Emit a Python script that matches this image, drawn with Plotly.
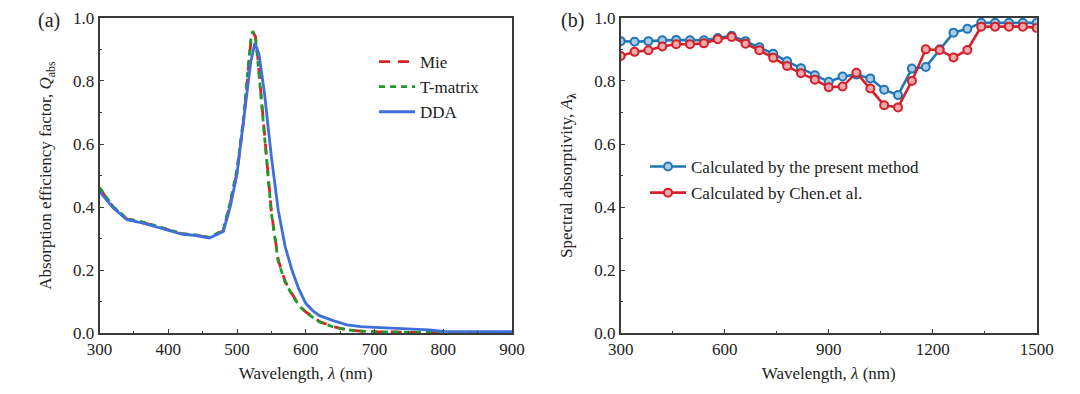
import plotly.graph_objects as go

# ---------- Panel (a) data ----------
wl_a = [300, 320, 340, 360, 380, 400, 420, 440, 460, 480, 490, 500, 510, 515, 520, 523, 527, 530,
        540, 550, 560, 570, 580, 590, 600, 620, 640, 660, 680, 700, 750, 800, 850, 900]
mie = [0.460, 0.400, 0.362, 0.353, 0.341, 0.327, 0.315, 0.311, 0.303, 0.325, 0.410, 0.510, 0.680,
       0.800, 0.920, 0.955, 0.940, 0.880, 0.640, 0.385, 0.232, 0.165, 0.125, 0.090, 0.068, 0.037,
       0.021, 0.011, 0.007, 0.005, 0.003, 0.002, 0.001, 0.001]
tmat = [0.462, 0.401, 0.363, 0.354, 0.342, 0.328, 0.316, 0.312, 0.304, 0.327, 0.415, 0.520, 0.690,
        0.815, 0.930, 0.958, 0.935, 0.870, 0.630, 0.380, 0.228, 0.162, 0.122, 0.088, 0.066, 0.036,
        0.020, 0.011, 0.007, 0.005, 0.003, 0.002, 0.001, 0.001]
wl_dda = [300, 320, 340, 360, 380, 400, 420, 440, 460, 480, 490, 500, 510, 520, 526, 532, 540, 550,
          560, 570, 580, 590, 600, 610, 620, 640, 660, 680, 700, 740, 780, 800, 850, 900]
dda = [0.450, 0.397, 0.360, 0.351, 0.339, 0.326, 0.314, 0.310, 0.302, 0.323, 0.400, 0.505, 0.680,
       0.860, 0.920, 0.885, 0.760, 0.560, 0.390, 0.275, 0.200, 0.140, 0.095, 0.072, 0.056, 0.040,
       0.027, 0.021, 0.019, 0.016, 0.011, 0.006, 0.005, 0.005]

# ---------- Panel (b) data ----------
wl_b = [300, 340, 380, 420, 460, 500, 540, 580, 620, 660, 700, 740, 780, 820, 860, 900, 940, 980,
        1020, 1060, 1100, 1140, 1180, 1220, 1260, 1300, 1340, 1380, 1420, 1460, 1500]
present = [0.926, 0.924, 0.926, 0.929, 0.930, 0.929, 0.929, 0.936, 0.943, 0.926, 0.907, 0.886,
           0.862, 0.840, 0.818, 0.797, 0.814, 0.820, 0.808, 0.772, 0.755, 0.839, 0.844, 0.900,
           0.953, 0.965, 0.984, 0.984, 0.984, 0.984, 0.984]
chen = [0.879, 0.892, 0.897, 0.909, 0.916, 0.916, 0.919, 0.932, 0.939, 0.918, 0.897, 0.873,
        0.847, 0.824, 0.804, 0.780, 0.782, 0.826, 0.776, 0.723, 0.716, 0.800, 0.900, 0.898,
        0.874, 0.898, 0.972, 0.972, 0.972, 0.972, 0.968]

x_ticks_a = [300, 400, 500, 600, 700, 800, 900]
x_ticks_b = [300, 600, 900, 1200, 1500]
y_ticks = [0.0, 0.2, 0.4, 0.6, 0.8, 1.0]

FONT = "Liberation Serif"
TXT = "#222222"
AX = "#3a3a3a"
W, H = 1080, 394
OFF = 8  # page body margin

def px_x(p):
    return (p - OFF) / W

def px_y(p):
    return 1 - (p - OFF) / H

fig = go.Figure()

fig.add_trace(go.Scatter(x=wl_a, y=mie, name="Mie", mode="lines",
                         line=dict(color="#d92525", width=2.8, dash="11px,8px"),
                         xaxis="x", yaxis="y", legend="legend", legendgroup="a1"))
fig.add_trace(go.Scatter(x=wl_a, y=tmat, name="T-matrix", mode="lines",
                         line=dict(color="#1f9a2a", width=2.8, dash="6px,5px"),
                         xaxis="x", yaxis="y", legend="legend", legendgroup="a2"))
fig.add_trace(go.Scatter(x=wl_dda, y=dda, name="DDA", mode="lines",
                         line=dict(color="#3f6fd8", width=2.8),
                         xaxis="x", yaxis="y", legend="legend", legendgroup="a3"))

fig.add_trace(go.Scatter(x=wl_b, y=present, name="Calculated by the present method",
                         mode="lines+markers",
                         line=dict(color="#2176b5", width=2.6),
                         marker=dict(symbol="circle", size=8, color="#a9cbe6",
                                     line=dict(color="#2176b5", width=2)),
                         xaxis="x2", yaxis="y2", legend="legend2", legendgroup="b1"))
fig.add_trace(go.Scatter(x=wl_b, y=chen, name="Calculated by Chen.et al.",
                         mode="lines+markers",
                         line=dict(color="#d4202a", width=2.6),
                         marker=dict(symbol="circle", size=8, color="#f0a9ad",
                                     line=dict(color="#d4202a", width=2)),
                         xaxis="x2", yaxis="y2", legend="legend2", legendgroup="b2"))

ydom = [px_y(333.3), px_y(17.8)]

common_axis = dict(showline=True, linecolor=AX, linewidth=1.5, mirror=True,
                   ticks="inside", ticklen=5, tickwidth=1.2, tickcolor=AX,
                   showgrid=False, zeroline=False, automargin=False,
                   tickfont=dict(family=FONT, size=17, color=TXT))

fig.update_layout(
    width=W, height=H,
    margin=dict(l=0, r=0, t=0, b=0, autoexpand=False),
    paper_bgcolor="white", plot_bgcolor="white",
    font=dict(family=FONT, size=17, color=TXT),
    xaxis=dict(domain=[px_x(99.5), px_x(512)], range=[300, 900], tickvals=x_ticks_a,
               minor=dict(dtick=50, ticks="inside", ticklen=3, tickcolor=AX),
               title=dict(text="Wavelength, <i>λ</i> (nm)", standoff=9,
                          font=dict(family=FONT, size=17, color=TXT)),
               anchor="y", **common_axis),
    yaxis=dict(domain=ydom, range=[0, 1.0], tickvals=y_ticks, tickformat=".1f",
               minor=dict(dtick=0.1, ticks="inside", ticklen=3, tickcolor=AX),
               title=dict(text="Absorption efficiency factor, <i>Q</i><sub>abs</sub>", standoff=17,
                          font=dict(family=FONT, size=17, color=TXT)),
               anchor="x", **common_axis),
    xaxis2=dict(domain=[px_x(620.7), px_x(1036.7)], range=[300, 1500], tickvals=x_ticks_b,
                minor=dict(dtick=150, ticks="inside", ticklen=3, tickcolor=AX),
                title=dict(text="Wavelength, <i>λ</i> (nm)", standoff=9,
                           font=dict(family=FONT, size=17, color=TXT)),
                anchor="y2", **common_axis),
    yaxis2=dict(domain=ydom, range=[0, 1.0], tickvals=y_ticks, tickformat=".1f",
                minor=dict(dtick=0.1, ticks="inside", ticklen=3, tickcolor=AX),
                title=dict(text="Spectral absorptivity, <i>A</i><sub><b>λ</b></sub>", standoff=17,
                           font=dict(family=FONT, size=17, color=TXT)),
                anchor="x2", **common_axis),
    legend=dict(x=366 / W, y=1 - 36 / H, xanchor="left", yanchor="top",
                bgcolor="rgba(0,0,0,0)", font=dict(family=FONT, size=17, color=TXT),
                tracegroupgap=0, itemwidth=36),
    legend2=dict(x=637 / W, y=1 - 141 / H, xanchor="left", yanchor="top",
                 bgcolor="rgba(0,0,0,0)", font=dict(family=FONT, size=17, color=TXT),
                 tracegroupgap=1, itemwidth=36),
    annotations=[
        dict(text="(a)", x=px_x(37), y=1, xref="paper", yref="paper",
             xanchor="left", yanchor="top", showarrow=False, borderpad=0,
             font=dict(family=FONT, size=20, color=TXT)),
        dict(text="(b)", x=px_x(560), y=1, xref="paper", yref="paper",
             xanchor="left", yanchor="top", showarrow=False, borderpad=0,
             font=dict(family=FONT, size=20, color=TXT)),
    ],
)

fig.write_html("out.html")
